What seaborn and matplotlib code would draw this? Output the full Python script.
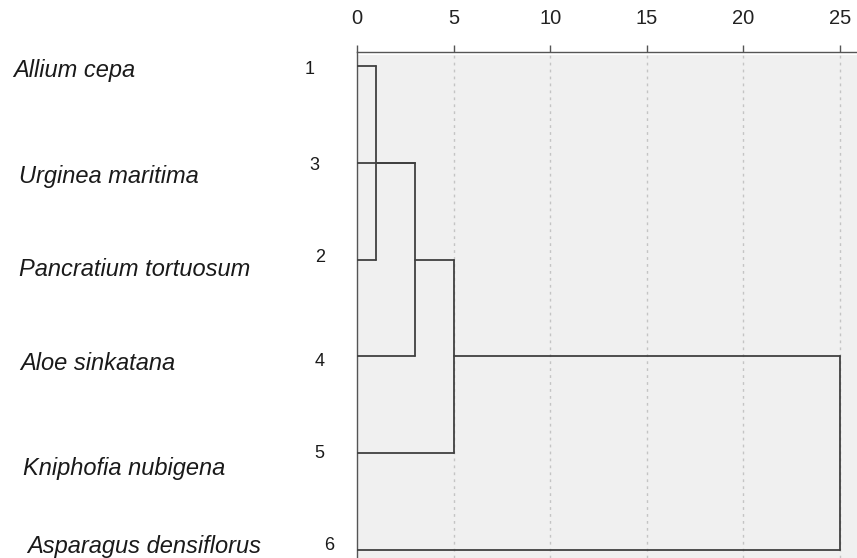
import numpy as np
import pandas as pd
import seaborn as sns
import matplotlib.pyplot as plt

# dendrogram rows, top to bottom
labels = ["Allium cepa", "Urginea maritima", "Pancratium tortuosum",
          "Aloe sinkatana", "Kniphofia nubigena", "Asparagus densiflorus"]
case_numbers = [1, 3, 2, 4, 5, 6]

# merges: first row, last row, rescaled distance
merge_top = [0, 1, 2, 3]
merge_bottom = [2, 3, 4, 5]
merge_height = [1.0, 3.0, 5.0, 25.0]

scale_ticks = [0, 5, 10, 15, 20, 25]


def build_segments():
    rows = []
    seg = 0
    # leaf lines up to the first merge touching the row
    for r in range(len(labels)):
        h = min(merge_height[k] for k in range(len(merge_height))
                if r in (merge_top[k], merge_bottom[k]))
        rows += [(seg, 0.0, r), (seg, h, r)]
        seg += 1
    for k in range(len(merge_height)):
        h = merge_height[k]
        rows += [(seg, h, merge_top[k]), (seg, h, merge_bottom[k])]
        seg += 1
        if k < len(merge_height) - 1:
            mid = (merge_top[k] + merge_bottom[k]) / 2
            rows += [(seg, h, mid), (seg, merge_height[k + 1], mid)]
            seg += 1
    return pd.DataFrame(rows, columns=["seg", "dist", "row"])


sns.set_theme(style="white")
plt.rcParams["font.family"] = ["Liberation Sans", "DejaVu Sans"]

W, H = 857, 558
fig = plt.figure(figsize=(W / 100, H / 100), dpi=100)
ax = fig.add_axes([357 / W, 0, 1 - 357 / W, 1 - 52 / H])

px_unit = (840 - 357) / 25
row_px = (550 - 66) / 5
ax.set_xlim(0, (W - 357) / px_unit)
ax.set_ylim((H - 66) / row_px, (52 - 66) / row_px)
ax.set_facecolor("white")
ax.axhspan((55 - 66) / row_px, 10, color="#f0f0f0", zorder=0, lw=0)

for t in scale_ticks[1:]:
    ax.axvline(t, color="#c4c4c4", lw=1, ls=(0, (2, 3)), zorder=1)

df = build_segments()
sns.lineplot(data=df, x="dist", y="row", units="seg", estimator=None,
             sort=False, color="#404040", lw=1.3, ax=ax, legend=False, zorder=3)

ax.set_xlabel("")
ax.set_ylabel("")
ax.set_yticks([])
ax.set_xticks(scale_ticks)
ax.xaxis.tick_top()
ax.tick_params(axis="x", direction="out", length=5, width=1, color="#555555",
               pad=12, labelsize=14.5, labelcolor="#222222")
for s in ["right", "bottom"]:
    ax.spines[s].set_visible(False)
ax.spines["top"].set_color("#555555")
ax.spines["left"].set_color("#555555")
ax.spines["top"].set_linewidth(1)
ax.spines["left"].set_linewidth(1)

# left labels (pixel layout as in reference)
name_x = [13, 19, 19, 20, 23, 27]
name_y = [71, 177, 270, 363, 468, 547]
num_x = [310, 314, 320, 320, 319, 329]
num_y = [70, 166, 258, 361, 453, 545]
for i, name in enumerate(labels):
    fig.text(name_x[i] / W, 1 - name_y[i] / H, name, ha="left", va="center",
             fontsize=17, style="italic", color="#1a1a1a")
    fig.text(num_x[i] / W, 1 - num_y[i] / H, str(case_numbers[i]), ha="center",
             va="center", fontsize=13, color="#1a1a1a")

fig.savefig("out.png", dpi=100)
